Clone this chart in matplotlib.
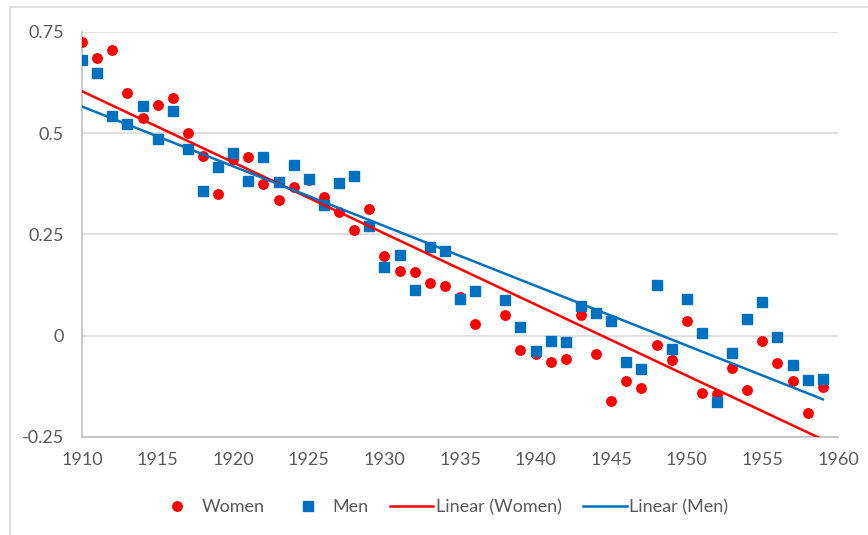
import matplotlib as mpl
mpl.use('Agg')
import matplotlib.pyplot as plt
import numpy as np

years = [1910, 1911, 1912, 1913, 1914, 1915, 1916, 1917, 1918, 1919,
         1920, 1921, 1922, 1923, 1924, 1925, 1926, 1927, 1928, 1929,
         1930, 1931, 1932, 1933, 1934, 1935, 1936, 1938, 1939,
         1940, 1941, 1942, 1943, 1944, 1945, 1946, 1947, 1948, 1949,
         1950, 1951, 1952, 1953, 1954, 1955, 1956, 1957, 1958, 1959]

women = [0.724, 0.684, 0.704, 0.599, 0.538, 0.569, 0.587, 0.501, 0.444, 0.349,
         0.435, 0.441, 0.374, 0.335, 0.366, 0.383, 0.343, 0.306, 0.261, 0.312,
         0.196, 0.160, 0.156, 0.129, 0.122, 0.096, 0.029, 0.052, -0.036,
         -0.046, -0.066, -0.058, 0.052, -0.044, -0.160, -0.113, -0.129, -0.022, -0.059,
         0.035, -0.141, -0.145, -0.079, -0.134, -0.014, -0.068, -0.112, -0.191, -0.126]

men = [0.680, 0.647, 0.541, 0.523, 0.567, 0.485, 0.555, 0.460, 0.357, 0.417,
       0.451, 0.382, 0.442, 0.379, 0.422, 0.387, 0.322, 0.377, 0.393, 0.270,
       0.170, 0.200, 0.113, 0.219, 0.209, 0.090, 0.109, 0.089, 0.021,
       -0.037, -0.014, -0.016, 0.073, 0.057, 0.035, -0.065, -0.083, 0.126, -0.032,
       0.091, 0.006, -0.163, -0.042, 0.041, 0.082, -0.004, -0.073, -0.110, -0.108]

red = '#ff0000'
blue = '#0070c0'
grey_txt = '#595959'

plt.rcParams['font.family'] = ['Lato', 'DejaVu Sans']

fig = plt.figure(figsize=(8.68, 5.35), dpi=100)
ax = fig.add_axes([0.0945, 0.1832, 0.8709, 0.7575])

# chart border (Excel style frame)
fig.add_artist(plt.Rectangle((10 / 868, -0.1), 1.2, 1.1 - 7 / 535, transform=fig.transFigure,
                             fill=False, edgecolor='#d9d9d9', linewidth=1.2))

x = np.array(years)
ax.plot(x, women, 'o', color=red, markersize=6.8, label='Women', zorder=3)
ax.plot(x, men, 's', color=blue, markersize=7.2, label='Men', zorder=3)

# linear trendlines
kw = np.polyfit(x, women, 1)
km = np.polyfit(x, men, 1)
xt = np.array([years[0], years[-1]])
ax.plot(xt, np.polyval(kw, xt), color=red, linewidth=1.8, label='Linear (Women)', zorder=4)
ax.plot(xt, np.polyval(km, xt), color=blue, linewidth=1.8, label='Linear (Men)', zorder=4)

ax.set_xlim(1910, 1960)
ax.set_ylim(-0.25, 0.75)
ax.set_xticks(range(1910, 1961, 5))
ax.set_yticks([-0.25, 0, 0.25, 0.5, 0.75])
ax.set_yticklabels(['-0.25', '0', '0.25', '0.5', '0.75'])
ax.grid(axis='y', color='#d9d9d9', linewidth=1.2)
ax.set_axisbelow(True)

for s in ['top', 'right']:
    ax.spines[s].set_visible(False)
ax.spines['left'].set_color('#bfbfbf')
ax.spines['bottom'].set_color('#bfbfbf')
ax.spines['left'].set_linewidth(1.2)
ax.spines['bottom'].set_linewidth(1.2)
ax.tick_params(length=0, labelsize=13, labelcolor=grey_txt)
ax.tick_params(axis='x', pad=11)
ax.tick_params(axis='y', pad=13)

ax.legend(loc='center', bbox_to_anchor=(0.509, 1 - 507 / 535), bbox_transform=fig.transFigure,
          ncol=4, frameon=False, fontsize=13, labelcolor=grey_txt,
          handlelength=2.4, columnspacing=1.2, handletextpad=0.15)

plt.savefig('out.png', dpi=100)
